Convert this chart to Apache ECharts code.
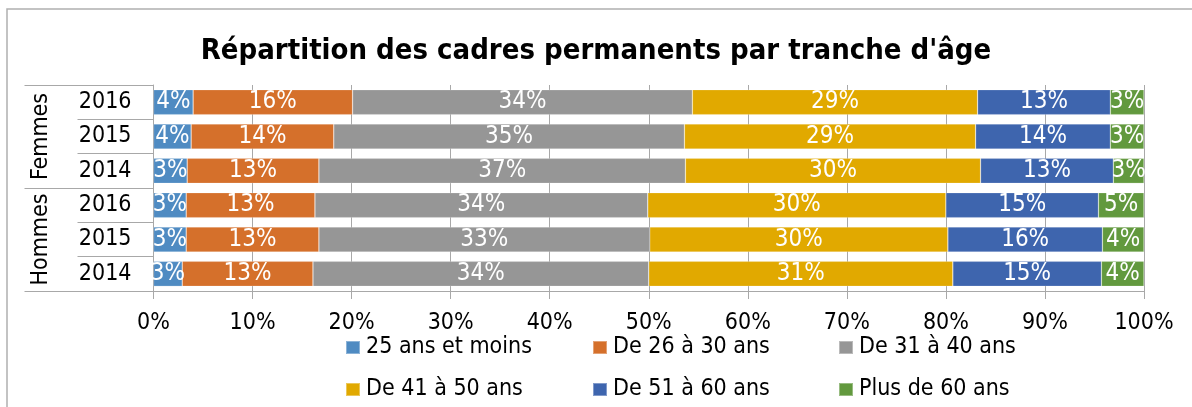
<!DOCTYPE html>
<html>
<head>
<meta charset="utf-8">
<script src="https://cdn.jsdelivr.net/npm/echarts@6/dist/echarts.min.js"></script>
<style>
	html, body { margin: 0; padding: 0; background: #fff; }
	#chart { width: 1192px; height: 407px; }
</style>
</head>
<body>
<div id="chart"></div>
<script>
// rows top to bottom
const groups = ['Femmes', 'Hommes'];
const years = ['2016', '2015', '2014', '2016', '2015', '2014'];
const ages = ['25 ans et moins', 'De 26 à 30 ans', 'De 31 à 40 ans', 'De 41 à 50 ans', 'De 51 à 60 ans', 'Plus de 60 ans'];

// % per age group, same row order as years
const moins25 = [4.0, 3.8, 3.4, 3.3, 3.3, 2.9];
const de26a30 = [16.1, 14.4, 13.3, 13.0, 13.4, 13.2];
const de31a40 = [34.3, 35.4, 37.0, 33.6, 33.4, 33.9];
const de41a50 = [28.8, 29.4, 29.8, 30.1, 30.1, 30.7];
const de51a60 = [13.4, 13.6, 13.4, 15.4, 15.6, 15.0];
const plus60 = [3.4, 3.4, 3.1, 4.6, 4.2, 4.3];

const xTicks = { min: 0, max: 100, interval: 10 };

const colors = ['#4f8bc2', '#d5702b', '#969696', '#e1a900', '#3e65ae', '#62993e'];
const font = 'DejaVu Sans Condensed';
const gridColor = '#a8a8a8';

let chart = echarts.init(document.getElementById('chart'));

let values = [moins25, de26a30, de31a40, de41a50, de51a60, plus60];
let series = ages.map((name, i) => {
	return {
		name: name,
		type: 'bar',
		stack: 'total',
		barCategoryGap: '27%',
		itemStyle: { color: colors[i], borderColor: 'rgba(255,255,255,0.35)', borderWidth: 0.6 },
		label: {
			show: true,
			position: 'inside',
			color: '#fff',
			fontSize: 24,
			fontFamily: font,
			formatter: (p) => Math.round(p.value) + '%'
		},
		data: values[i]
	};
});

// legend: 3 columns x 2 rows
const colX = [345, 592, 838];
const rowY = [336, 378];
let legends = ages.map((name, i) => {
	return {
		data: [name],
		left: colX[i % 3],
		top: rowY[Math.floor(i / 3)],
		padding: 0,
		icon: 'rect',
		itemWidth: 14,
		itemHeight: 13,
		selectedMode: false,
		textStyle: { fontSize: 23, fontFamily: font, color: '#000', padding: [0, 0, 0, 1] }
	};
});

let option = {
	animation: false,
	color: colors,
	title: {
		text: "Répartition des cadres permanents par tranche d'âge",
		left: 'center',
		top: 32,
		textStyle: { fontSize: 29, fontWeight: 'bold', fontFamily: font, color: '#000' }
	},
	graphic: [{
		type: 'rect',
		shape: { x: 7, y: 9, width: 1400, height: 600 },
		style: { fill: 'none', stroke: '#b0b0b0', lineWidth: 1.5 },
		silent: true
	}],
	legend: legends,
	grid: { left: 153.5, right: 48, top: 85, bottom: 116 },
	xAxis: {
		type: 'value',
		min: xTicks.min,
		max: xTicks.max,
		interval: xTicks.interval,
		axisLine: { show: true, lineStyle: { color: gridColor } },
		axisTick: { show: true, length: 8, lineStyle: { color: gridColor } },
		splitLine: { show: true, lineStyle: { color: gridColor } },
		axisLabel: { formatter: '{value}%', fontSize: 23, fontFamily: font, color: '#000', margin: 21 }
	},
	yAxis: [
		{
			type: 'category',
			data: years,
			inverse: true,
			axisLine: { show: true, lineStyle: { color: gridColor } },
			axisTick: { show: true, interval: 0, length: 76, lineStyle: { color: gridColor } },
			axisLabel: { interval: 0, fontSize: 23, fontFamily: font, color: '#000', margin: 22 }
		},
		{
			type: 'category',
			data: groups,
			inverse: true,
			position: 'left',
			axisLine: { show: false },
			axisTick: { show: true, interval: 0, length: 129, lineStyle: { color: gridColor } },
			axisLabel: { interval: 0, rotate: 90, fontSize: 23, fontFamily: font, color: '#000', margin: 101 }
		}
	],
	series: series
};

chart.setOption(option);
window.addEventListener('resize', () => {
	chart.resize();
});
</script>
</body>
</html>
